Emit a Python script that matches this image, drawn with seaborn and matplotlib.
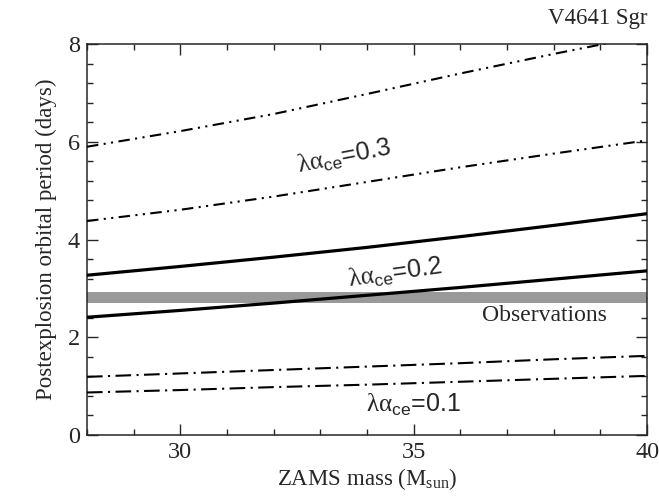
import numpy as np
import pandas as pd
import seaborn as sns
import matplotlib.pyplot as plt

# ZAMS mass grid and orbital periods (days)
mass = [28, 30, 32, 34, 36, 38, 40]
top_03 = [5.90, 6.22, 6.57, 6.98, 7.40, 7.80, 8.18]   # lambda*alpha = 0.3, upper
low_03 = [4.38, 4.61, 4.88, 5.18, 5.48, 5.76, 6.03]   # lambda*alpha = 0.3, lower
top_02 = [3.27, 3.45, 3.64, 3.84, 4.06, 4.29, 4.53]   # lambda*alpha = 0.2, upper
low_02 = [2.41, 2.55, 2.70, 2.86, 3.02, 3.19, 3.36]   # lambda*alpha = 0.2, lower
top_01 = [1.19, 1.26, 1.33, 1.40, 1.47, 1.55, 1.62]   # lambda*alpha = 0.1, upper
low_01 = [0.87, 0.92, 0.98, 1.03, 1.09, 1.15, 1.21]   # lambda*alpha = 0.1, lower
obs_band = [2.71, 2.93]

sns.set_style("ticks")
plt.rcParams["font.family"] = ["Liberation Serif", "DejaVu Serif"]
plt.rcParams["mathtext.fontset"] = "custom"
plt.rcParams["mathtext.it"] = "Liberation Serif"
plt.rcParams["mathtext.rm"] = "Liberation Serif"

df = pd.DataFrame({"mass": mass, "top_03": top_03, "low_03": low_03,
                   "top_02": top_02, "low_02": low_02,
                   "top_01": top_01, "low_01": low_01})

fig, ax = plt.subplots(figsize=(6.59, 4.96), dpi=100)
fig.subplots_adjust(left=0.132, right=0.982, top=0.911, bottom=0.123)

ax.axhspan(obs_band[0], obs_band[1], color="#999999", lw=0, zorder=1)

dashdotdot = (0, (5.5, 2.6, 1.0, 2.6, 1.0, 2.6))
dashdot = (0, (7.5, 2.6, 1.0, 2.6))
styles = {
    "top_03": (dashdotdot, 1.5),
    "low_03": (dashdotdot, 1.5),
    "top_02": ("-", 2.3),
    "low_02": ("-", 2.3),
    "top_01": (dashdot, 1.5),
    "low_01": (dashdot, 1.5),
}
for col, (ls, lw) in styles.items():
    sns.lineplot(data=df, x="mass", y=col, ax=ax, color="black",
                 linestyle=ls, lw=lw, estimator=None, zorder=3)

ax.set_xlim(28, 40)
ax.set_ylim(0, 8)
ax.set_xticks([30, 35, 40])
ax.set_xticks(np.arange(28, 41, 1), minor=True)
ax.set_yticks([0, 2, 4, 6, 8])
ax.set_yticks(np.arange(0, 8.01, 0.4), minor=True)
ax.tick_params(which="both", direction="in", top=True, right=True,
               labelsize=17.5, width=1.0, pad=5)
ax.tick_params(which="major", length=8)
ax.tick_params(which="minor", length=4)
for sp in ax.spines.values():
    sp.set_linewidth(1.1)

ax.set_xlabel(r"ZAMS mass (M$\mathregular{_{sun}}$)", fontsize=16.5, labelpad=2)
ax.set_ylabel("Postexplosion orbital period (days)", fontsize=16.5, labelpad=8)

sans = ["Liberation Sans", "DejaVu Sans"]
ax.text(33.5, 5.68, r"$\lambda\alpha\mathregular{_{ce}}$=0.3", family=sans,
        fontsize=18, rotation=11, ha="center", va="center")
ax.text(34.6, 3.31, r"$\lambda\alpha\mathregular{_{ce}}$=0.2", family=sans,
        fontsize=18, rotation=8, ha="center", va="center")
ax.text(35.0, 0.61, r"$\lambda\alpha\mathregular{_{ce}}$=0.1", family=sans,
        fontsize=18, ha="center", va="center")
ax.text(37.8, 2.45, "Observations", fontsize=17, ha="center", va="center")
ax.text(1.0, 1.04, "V4641 Sgr", transform=ax.transAxes, fontsize=16.5,
        ha="right", va="bottom")

fig.savefig("out.png", dpi=100)
